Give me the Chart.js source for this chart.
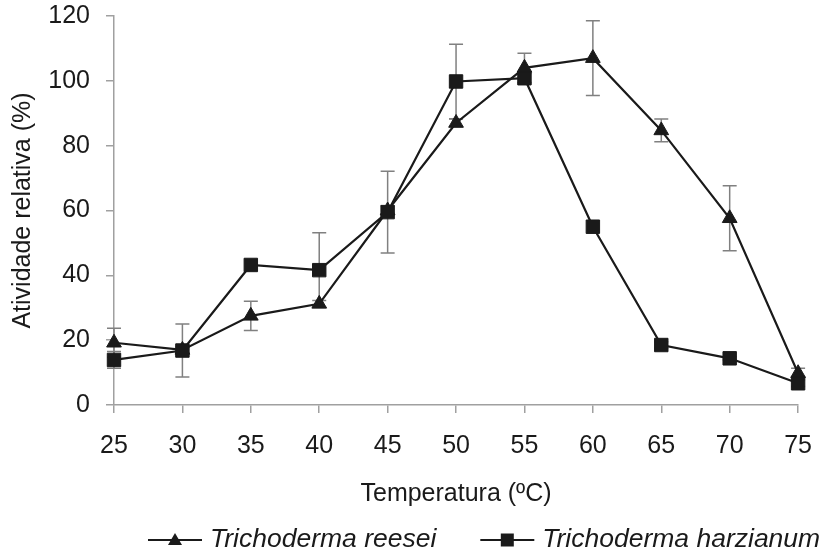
<!DOCTYPE html>
<html>
<head>
<meta charset="utf-8">
<script src="https://cdn.jsdelivr.net/npm/chart.js@4.4.1/dist/chart.umd.min.js"></script>
<style>
	html, body { margin: 0; padding: 0; background: #fff; }
	#wrap { width: 830px; height: 554px; position: relative; }
</style>
</head>
<body>
<div id="wrap"><canvas id="chart1"></canvas></div>
<script>
	"use strict";

	// temperatures (x categories)
	var temps = ["25", "30", "35", "40", "45", "50", "55", "60", "65", "70", "75"];
	// y tick labels
	var yTicks = [0, 20, 40, 60, 80, 100, 120];

	// Trichoderma reesei - relative activity and error
	var reesei = [19.2, 17, 27.5, 31.2, 60, 87, 104, 107, 84.7, 57.6, 9.8];
	var reeseiErr = [4.5, 1, 4.5, 1, 1.5, 1.2, 4.5, 11.5, 3.5, 10, 1.5];

	// Trichoderma harzianum - relative activity and error
	var harzianum = [13.9, 16.8, 43.2, 41.6, 59.5, 99.8, 100.8, 55, 18.5, 14.4, 6.7];
	var harzianumErr = [2.6, 8.2, 0, 11.5, 12.6, 11.5, 1.5, 0, 1, 0.5, 1];

	var FONT = "'Liberation Sans', Arial, sans-serif";
	var INK = "#1a1a1a";

	// vertical error bars with caps, drawn under the lines
	var errorBars = {
		id: "errorBars",
		beforeDatasetsDraw: function (chart) {
			var ctx = chart.ctx, y = chart.scales.y;
			chart.data.datasets.forEach(function (ds, i) {
				var meta = chart.getDatasetMeta(i);
				meta.data.forEach(function (pt, j) {
					var e = ds.errors[j];
					if (!e) return;
					var top = y.getPixelForValue(ds.data[j] + e);
					var bot = y.getPixelForValue(ds.data[j] - e);
					ctx.save();
					ctx.strokeStyle = "#808080";
					ctx.lineWidth = 1.5;
					ctx.beginPath();
					ctx.moveTo(pt.x, top); ctx.lineTo(pt.x, bot);
					ctx.moveTo(pt.x - 7, top); ctx.lineTo(pt.x + 7, top);
					ctx.moveTo(pt.x - 7, bot); ctx.lineTo(pt.x + 7, bot);
					ctx.stroke();
					ctx.restore();
				});
			});
		}
	};

	// legend: short line with marker, italic species name
	var lineLegend = {
		id: "lineLegend",
		afterDraw: function (chart) {
			var ctx = chart.ctx;
			var x = 148, y = chart.height - 14;
			ctx.save();
			ctx.font = "italic 26.5px " + FONT;
			ctx.textBaseline = "middle";
			chart.data.datasets.forEach(function (ds) {
				ctx.strokeStyle = INK;
				ctx.fillStyle = INK;
				ctx.lineWidth = 2;
				ctx.beginPath();
				ctx.moveTo(x, y); ctx.lineTo(x + 54, y);
				ctx.stroke();
				var cx = x + 27;
				ctx.beginPath();
				if (ds.pointStyle === "triangle") {
					ctx.moveTo(cx, y - 7); ctx.lineTo(cx + 7, y + 5); ctx.lineTo(cx - 7, y + 5);
				} else {
					ctx.rect(cx - 6.5, y - 6.5, 13, 13);
				}
				ctx.closePath();
				ctx.fill();
				ctx.fillText(ds.label, x + 62, y);
				x += 62 + ctx.measureText(ds.label).width + 44;
			});
			ctx.restore();
		}
	};

	new Chart(document.getElementById("chart1"), {
		type: "line",
		data: {
			labels: temps,
			datasets: [{
				label: "Trichoderma reesei",
				data: reesei,
				errors: reeseiErr,
				borderColor: INK,
				backgroundColor: INK,
				borderWidth: 2.2,
				pointStyle: "triangle",
				pointRadius: 8.5,
				pointBorderWidth: 1,
				order: 1
			}, {
				label: "Trichoderma harzianum",
				data: harzianum,
				errors: harzianumErr,
				borderColor: INK,
				backgroundColor: INK,
				borderWidth: 2.2,
				pointStyle: "rect",
				pointRadius: 9.5,
				pointBorderWidth: 1,
				order: 0
			}]
		},
		options: {
			responsive: true,
			maintainAspectRatio: false,
			animation: false,
			layout: { padding: { top: 0, right: 31, bottom: 45, left: 0 } },
			plugins: {
				legend: { display: false },
				tooltip: { enabled: false }
			},
			scales: {
				x: {
					type: "category",
					offset: false,
					afterFit: function (s) { s.height = 104; },
					grid: { display: true, drawOnChartArea: false, drawTicks: true, tickLength: 8, color: "#a0a0a0", lineWidth: 1.5 },
					border: { color: "#a0a0a0", width: 1.5 },
					ticks: { color: INK, font: { family: FONT, size: 25 }, padding: 18, maxRotation: 0, autoSkip: false },
					title: { display: true, text: "Temperatura (ºC)", color: INK, font: { family: FONT, size: 25 }, padding: { top: 18, bottom: 0 } }
				},
				y: {
					min: 0,
					max: 120,
					afterBuildTicks: function (s) { s.ticks = yTicks.map(function (v) { return { value: v }; }); },
					afterFit: function (s) { s.width = 114; s.paddingTop = 16; },
					grid: { display: true, drawOnChartArea: false, drawTicks: true, tickLength: 8, color: "#a0a0a0", lineWidth: 1.5 },
					border: { color: "#a0a0a0", width: 1.5 },
					ticks: { color: INK, font: { family: FONT, size: 25 }, padding: 16 },
					title: { display: true, text: "Atividade relativa (%)", color: INK, font: { family: FONT, size: 25 }, padding: { top: 8, bottom: 0 } }
				}
			}
		},
		plugins: [errorBars, lineLegend]
	});
</script>
</body>
</html>
